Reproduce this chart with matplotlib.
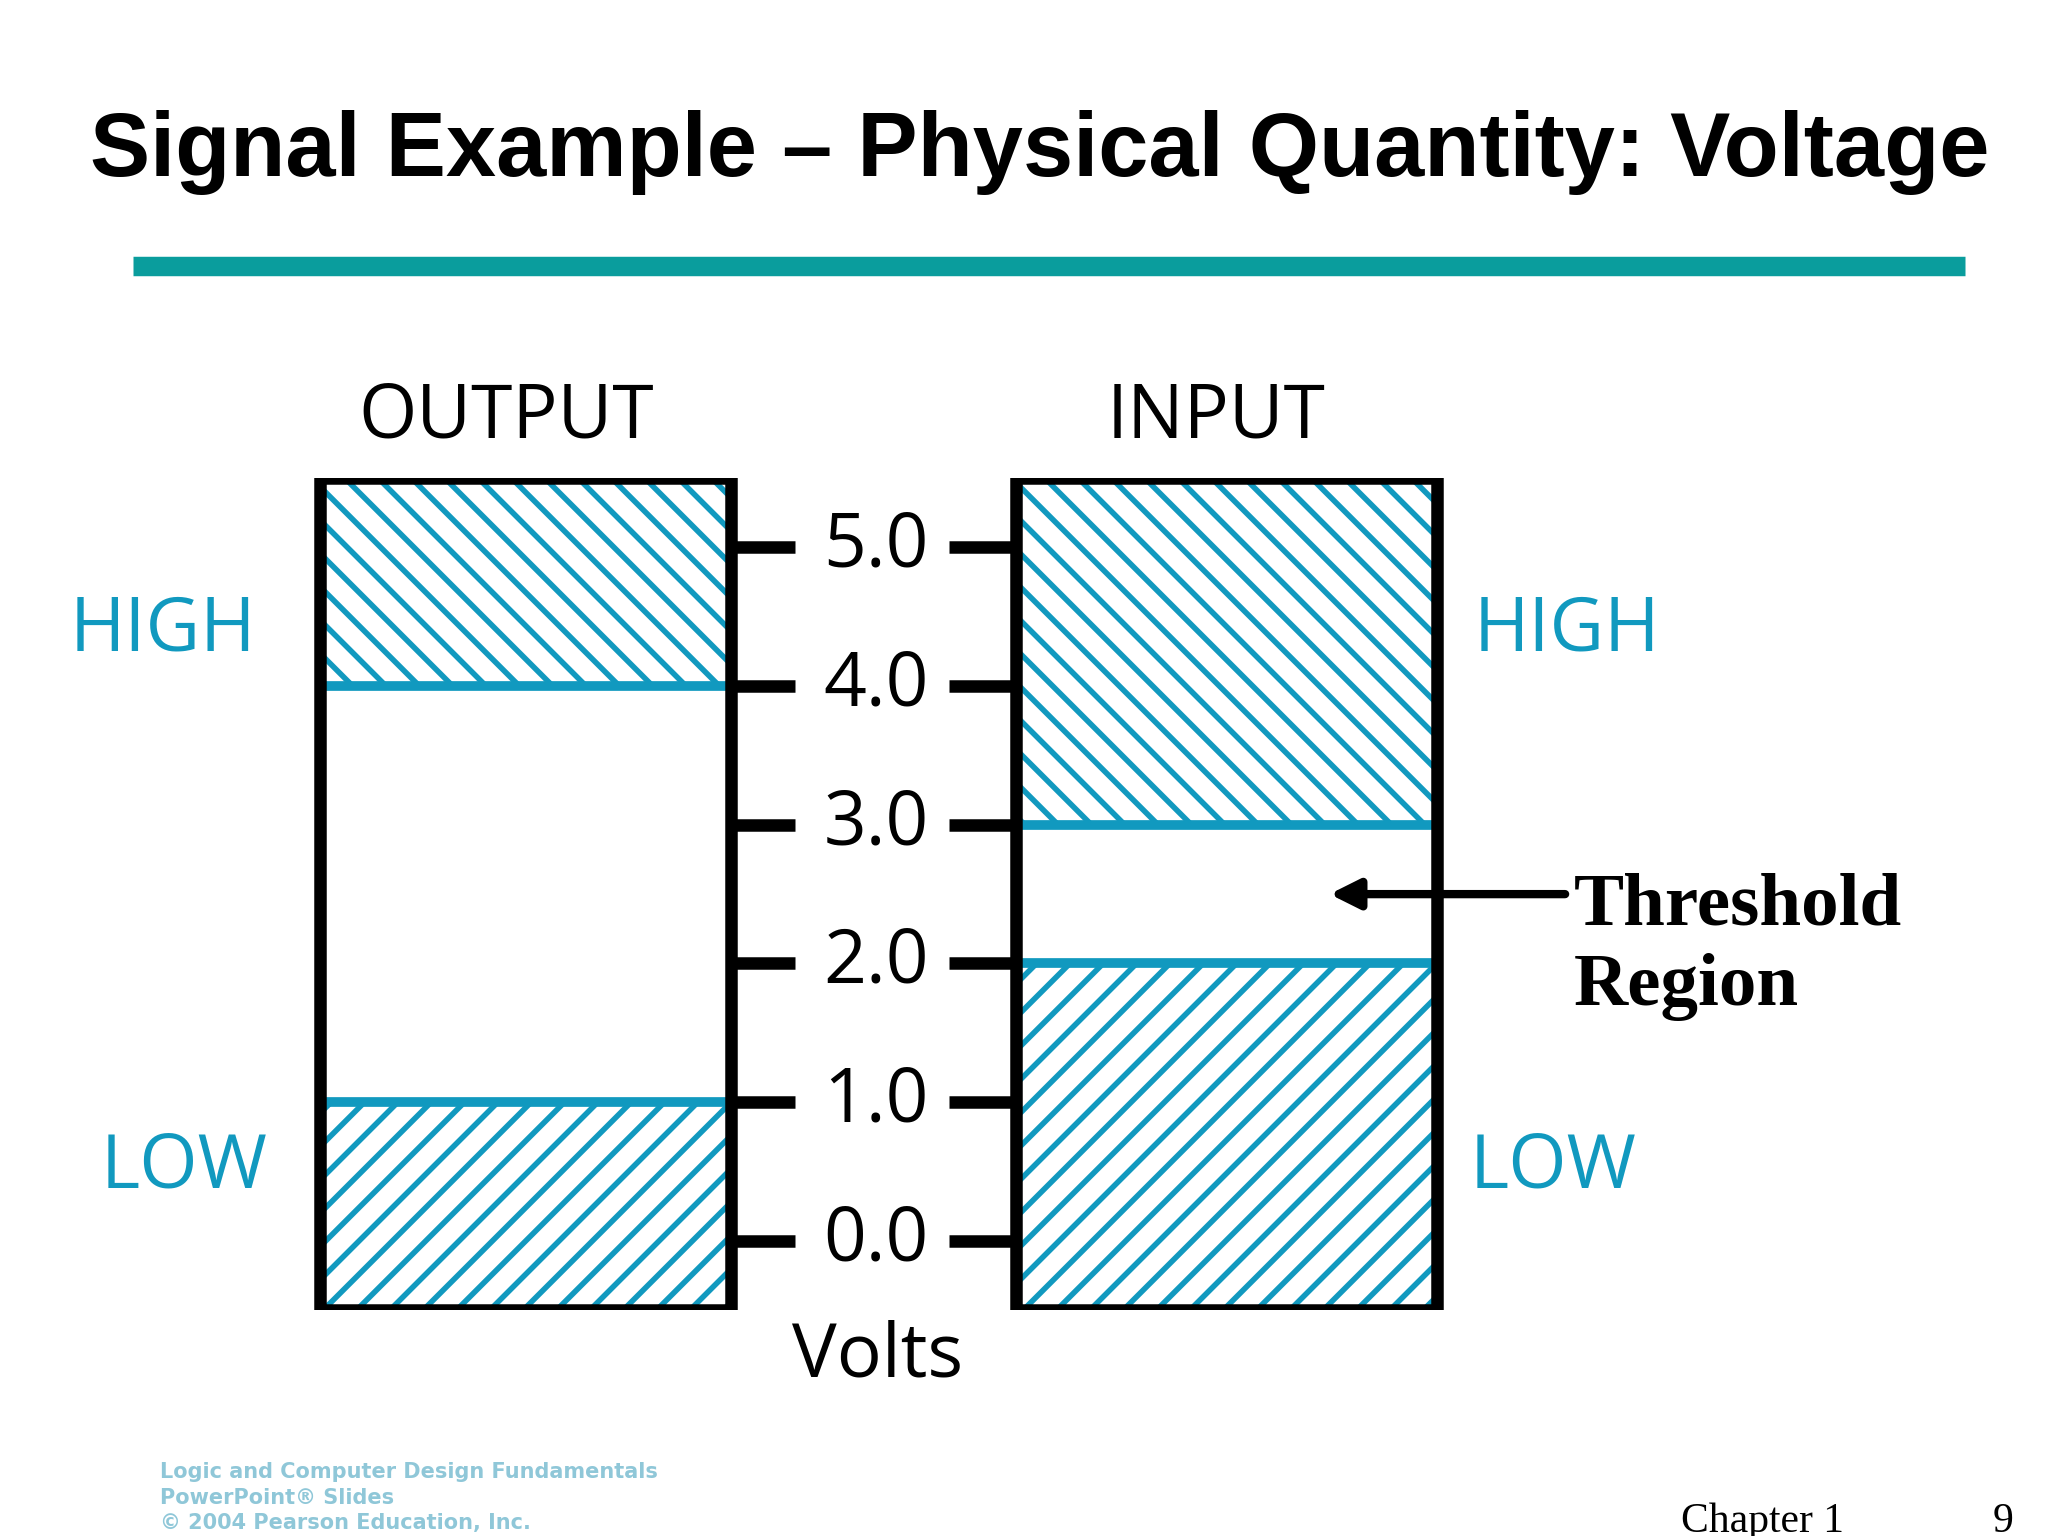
import matplotlib
matplotlib.use('Agg')
import matplotlib.pyplot as plt
from matplotlib.patches import Rectangle

plt.rcParams['hatch.linewidth'] = 2.0

ticks = [0.0, 1.0, 2.0, 3.0, 4.0, 5.0]
v_min, v_max = -0.5, 5.5
# (low band top, high band bottom) for each side
output_bands = (1.0, 4.0)
input_bands = (2.0, 3.0)

cyan = '#1199bf'
W, H = 1536, 1157

fig = plt.figure(figsize=(10.24, 7.68), dpi=200)
bg = fig.add_axes([0, 0, 1, 1])
bg.set_xlim(0, W)
bg.set_ylim(H, 0)
bg.axis('off')

bg.text(780, 115, 'Signal Example \u2013 Physical Quantity: Voltage', ha='center', va='center',
        fontsize=32.5, fontweight='bold', family='Liberation Sans')
bg.plot([100, 1474], [200, 200], color='#0a9d9d', lw=7, solid_capstyle='butt')

# voltage axes: box top y=360, bottom y=987 in picture pixels
ax = fig.add_axes([0, (H - 987) / H, 1, (987 - 360) / H])
ax.set_xlim(0, W)
ax.set_ylim(v_min, v_max)
ax.axis('off')

def draw_box(x0, x1, bands):
    low, high = bands
    ax.add_patch(Rectangle((x0, high), x1 - x0, v_max - high, fill=False,
                           hatch='\\\\', edgecolor=cyan, lw=0))
    ax.add_patch(Rectangle((x0, v_min), x1 - x0, low - v_min, fill=False,
                           hatch='//', edgecolor=cyan, lw=0))
    ax.plot([x0, x1], [high, high], color=cyan, lw=3.5)
    ax.plot([x0, x1], [low, low], color=cyan, lw=3.5)
    ax.add_patch(Rectangle((x0, v_min), x1 - x0, v_max - v_min, fill=False,
                           edgecolor='black', lw=4.5, zorder=5))

draw_box(240, 548, output_bands)
draw_box(762, 1078, input_bands)

for t in ticks:
    ax.plot([552, 596], [t, t], color='black', lw=4.5, solid_capstyle='butt')
    ax.plot([712, 760], [t, t], color='black', lw=4.5, solid_capstyle='butt')
    ax.text(657, t, f'{t:.1f}', ha='center', va='center', fontsize=27, family='Open Sans')

ax.annotate('', xy=(993, 2.5), xytext=(1178, 2.5),
            arrowprops=dict(arrowstyle='-|>', color='black', lw=3, mutation_scale=22))

bg.text(380, 315, 'OUTPUT', ha='center', va='center', fontsize=27, family='Open Sans')
bg.text(912, 315, 'INPUT', ha='center', va='center', fontsize=27, family='Open Sans')
bg.text(658, 1022, 'Volts', ha='center', va='center', fontsize=27, family='Open Sans')
for x, y, s in [(122, 475, 'HIGH'), (138, 880, 'LOW'), (1175, 475, 'HIGH'), (1165, 880, 'LOW')]:
    bg.text(x, y, s, ha='center', va='center', fontsize=27, family='Open Sans', color=cyan)
bg.text(1180, 713, 'Threshold\nRegion', ha='left', va='center', fontsize=27,
        fontweight='bold', family='Liberation Serif', linespacing=1.25)

bg.text(120, 1128, 'Logic and Computer Design Fundamentals\nPowerPoint\u00ae Slides\n\u00a9 2004 Pearson Education, Inc.',
        ha='left', va='center', fontsize=7.5, fontweight='bold', color='#8fc7d8',
        family='DejaVu Sans', linespacing=1.35)
bg.text(1322, 1146, 'Chapter 1', ha='center', va='center', fontsize=15, family='Liberation Serif')
bg.text(1502, 1146, '9', ha='center', va='center', fontsize=15, family='Liberation Serif')

fig.savefig('out.png', dpi=200)
